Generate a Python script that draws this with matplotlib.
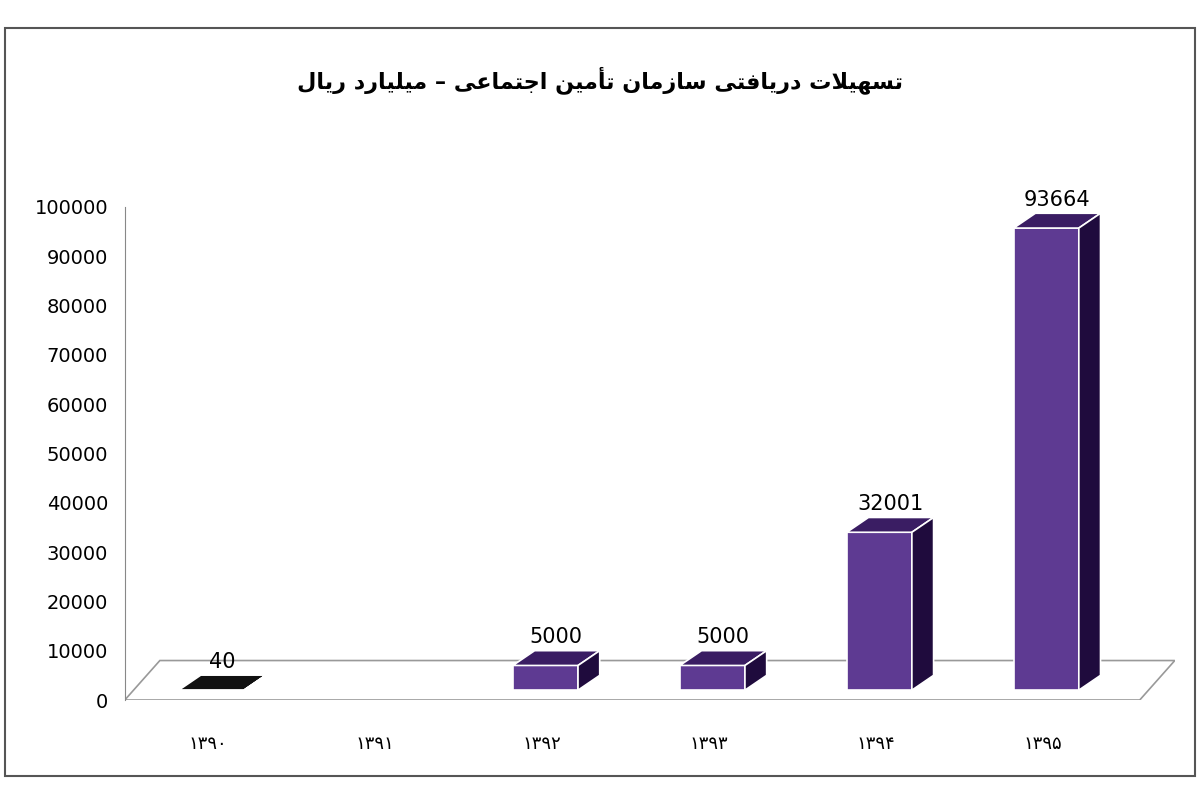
import matplotlib
matplotlib.use("Agg")
import matplotlib.pyplot as plt
from matplotlib.patches import Polygon, Rectangle

title_fa = "تسهیلات دریافتی سازمان تأمین اجتماعی – میلیارد ریال"
categories = ["۱۳۹۰", "۱۳۹۱", "۱۳۹۲", "۱۳۹۳", "۱۳۹۴", "۱۳۹۵"]
values = [40, 0, 5000, 5000, 32001, 93664]
labels = ["40", "", "5000", "5000", "32001", "93664"]

FORMS = {
    "ا": (0xFE8D, 0xFE8E, None, None), "أ": (0xFE83, 0xFE84, None, None),
    "د": (0xFEA9, 0xFEAA, None, None), "ر": (0xFEAD, 0xFEAE, None, None),
    "ز": (0xFEAF, 0xFEB0, None, None),
    "ت": (0xFE95, 0xFE96, 0xFE97, 0xFE98), "ج": (0xFE9D, 0xFE9E, 0xFE9F, 0xFEA0),
    "س": (0xFEB1, 0xFEB2, 0xFEB3, 0xFEB4), "ع": (0xFEC9, 0xFECA, 0xFECB, 0xFECC),
    "ف": (0xFED1, 0xFED2, 0xFED3, 0xFED4), "ق": (0xFED5, 0xFED6, 0xFED7, 0xFED8),
    "ل": (0xFEDD, 0xFEDE, 0xFEDF, 0xFEE0), "م": (0xFEE1, 0xFEE2, 0xFEE3, 0xFEE4),
    "ن": (0xFEE5, 0xFEE6, 0xFEE7, 0xFEE8), "ه": (0xFEE9, 0xFEEA, 0xFEEB, 0xFEEC),
    "ی": (0xFBFC, 0xFBFD, 0xFBFE, 0xFBFF),
}

def shape(s):
    out = []
    i = 0
    chars = list(s)
    prev_dual = False
    while i < len(chars):
        c = chars[i]
        if c not in FORMS:
            out.append(c); prev_dual = False; i += 1; continue
        if c == "ل" and i + 1 < len(chars) and chars[i + 1] in ("ا", "أ"):
            lig = (0xFEFC if prev_dual else 0xFEFB) if chars[i+1] == "ا" else (0xFEF8 if prev_dual else 0xFEF7)
            out.append(chr(lig)); prev_dual = False; i += 2; continue
        f = FORMS[c]
        dual = f[2] is not None
        nxt = chars[i + 1] if i + 1 < len(chars) else ""
        joins_next = dual and nxt in FORMS
        if prev_dual and joins_next:
            g = f[3]
        elif prev_dual:
            g = f[1]
        elif joins_next:
            g = f[2]
        else:
            g = f[0]
        out.append(chr(g))
        prev_dual = dual
        i += 1
    return "".join(reversed(out))

fig = plt.figure(figsize=(12, 8), dpi=100)
fig.patches.append(Rectangle((0.004, 0.03), 0.992, 0.935, transform=fig.transFigure,
                             fill=False, ec="#555555", lw=1.5))
fig.text(0.5, 0.9, shape(title_fa), ha="center", va="center", fontsize=16,
         fontweight="bold", family="DejaVu Sans")

ax = fig.add_axes([0.104, 0.125, 0.875, 0.6475])
ax.set_xlim(0, 6.29)
ax.set_ylim(0, 105000)
for s in ["top", "right", "bottom"]:
    ax.spines[s].set_visible(False)
ax.spines["left"].set_color("#888888")
ax.spines["left"].set_bounds(0, 100000)
ax.set_yticks(range(0, 100001, 10000))
ax.tick_params(axis="y", labelsize=14, length=0, pad=12)
ax.set_xticks([])

fdx, fdy = 0.21, 8000
ax.add_patch(Polygon([(0, 0), (6.08, 0), (6.08 + fdx, fdy), (fdx, fdy)],
                     closed=True, fc="white", ec="#999999", lw=1.2, zorder=1))

w, bdx, bdy = 0.39, 0.13, 3000
front, top, side = "#5e3a92", "#3a1d63", "#1f0b3d"
for i, (v, lab) in enumerate(zip(values, labels)):
    ax.text(i + 0.5, -9000, categories[i], ha="center", va="center", fontsize=13,
            family="DejaVu Sans")
    if v <= 0:
        continue
    x0 = i + 0.5 - w / 2 + 0.02
    base = 2000
    ytop = base + v
    fc = "#111111" if v < 1000 else front
    tc = "#111111" if v < 1000 else top
    sc = "#111111" if v < 1000 else side
    ax.add_patch(Polygon([(x0, base), (x0 + w, base), (x0 + w, ytop), (x0, ytop)],
                         fc=fc, ec="white", lw=1.2, zorder=3))
    ax.add_patch(Polygon([(x0, ytop), (x0 + w, ytop), (x0 + w + bdx, ytop + bdy), (x0 + bdx, ytop + bdy)],
                         fc=tc, ec="white", lw=1.2, zorder=3))
    ax.add_patch(Polygon([(x0 + w, base), (x0 + w + bdx, base + bdy), (x0 + w + bdx, ytop + bdy), (x0 + w, ytop)],
                         fc=sc, ec="white", lw=1.2, zorder=3))
    ax.text(x0 + (w + bdx) / 2, ytop + bdy + 700, lab, ha="center", va="bottom",
            fontsize=15, zorder=4)

fig.savefig("out.png", dpi=100)
